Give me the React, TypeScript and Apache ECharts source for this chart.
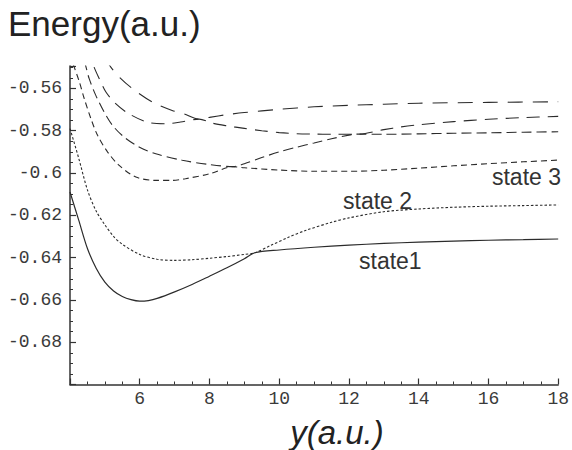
import React, { useEffect, useRef } from 'react';
import * as echarts from 'echarts';

// Axis tick labels
const xTickLabels = [6, 8, 10, 12, 14, 16, 18];
const yTickLabels = [-0.68, -0.66, -0.64, -0.62, -0.6, -0.58, -0.56];

// state 1 (solid)
const state1X = [4, 4.25, 4.5, 4.75, 5, 5.25, 5.5, 5.75, 6, 6.25, 6.5, 7, 7.5, 8, 8.5, 9, 9.3, 10, 11, 12, 13, 14, 15, 16, 17, 18];
const state1Y = [-0.609, -0.6223, -0.6357, -0.645, -0.6516, -0.6558, -0.6584, -0.6599, -0.6606, -0.6603, -0.6593, -0.6562, -0.6527, -0.6488, -0.6448, -0.6405, -0.6377, -0.6364, -0.6351, -0.6341, -0.6333, -0.6327, -0.6322, -0.6318, -0.6315, -0.6312];

// state 2 (dotted)
const state2X = [4, 4.25, 4.5, 4.75, 5, 5.25, 5.5, 6, 6.5, 7, 7.5, 8, 8.5, 9, 9.3, 9.75, 10.25, 10.75, 11.5, 12, 13, 14, 15, 16, 17, 18];
const state2Y = [-0.579, -0.593, -0.608, -0.618, -0.6245, -0.63, -0.6337, -0.6385, -0.6408, -0.6413, -0.641, -0.6403, -0.6395, -0.6385, -0.6377, -0.6343, -0.6305, -0.6272, -0.6233, -0.6212, -0.6183, -0.617, -0.6162, -0.6157, -0.6154, -0.6151];

// state 3 (short dashes)
const state3X = [4, 4.12, 4.27, 4.41, 4.6, 4.79, 5.08, 5.41, 5.89, 6.46, 6.93, 7.31, 8, 8.68, 9, 10, 11, 12, 13, 14, 15, 16, 17, 18];
const state3Y = [-0.5443, -0.5499, -0.557, -0.5649, -0.5743, -0.5822, -0.5901, -0.5964, -0.6019, -0.6035, -0.6035, -0.6027, -0.6004, -0.597, -0.5975, -0.5986, -0.5992, -0.5992, -0.5987, -0.5977, -0.5966, -0.5956, -0.5947, -0.5939];

// state 4 (medium dashes)
const state4X = [4.3, 4.46, 4.55, 4.74, 4.98, 5.22, 5.55, 5.98, 6.46, 7.22, 8, 8.68, 9, 9.5, 10, 10.5, 11, 11.5, 12, 12.2, 13, 14, 15, 16, 17, 18];
const state4Y = [-0.54, -0.5499, -0.5554, -0.5633, -0.5712, -0.5775, -0.583, -0.5877, -0.5909, -0.594, -0.596, -0.597, -0.5956, -0.5927, -0.59, -0.5878, -0.5858, -0.5838, -0.5821, -0.5816, -0.5817, -0.5815, -0.5812, -0.581, -0.5807, -0.5805];

// state 5 (long dashes)
const state5X = [4.5, 4.69, 4.84, 5.03, 5.31, 5.69, 6.27, 6.74, 7.17, 7.7, 8.1, 8.5, 9, 9.5, 10, 10.5, 11, 11.5, 12.2, 13, 13.5, 14, 15, 16, 17, 18];
const state5Y = [-0.5405, -0.5499, -0.5554, -0.5617, -0.5672, -0.572, -0.5762, -0.5767, -0.5759, -0.5745, -0.5765, -0.5777, -0.5789, -0.58, -0.5809, -0.5814, -0.5816, -0.5817, -0.5817, -0.5795, -0.5782, -0.5772, -0.5757, -0.5746, -0.5738, -0.5732];

// state 6 (longest dashes)
const state6X = [5.0, 5.17, 5.41, 5.79, 6.36, 6.93, 7.27, 7.7, 8.0, 8.5, 9, 10, 11, 12, 13, 14, 16, 18];
const state6Y = [-0.5455, -0.5499, -0.5546, -0.5601, -0.5664, -0.5704, -0.572, -0.5745, -0.5737, -0.5724, -0.5714, -0.5699, -0.5687, -0.568, -0.5675, -0.567, -0.5666, -0.5663];

const pairs = (xs: number[], ys: number[]) => xs.map((x, i) => [x, ys[i]]);

export default function App() {
  const ref = useRef<HTMLDivElement>(null);
  useEffect(() => {
    const chart = echarts.init(ref.current!, null, { renderer: 'svg' });
    const lineColor = '#2b2b2b';
    const mk = (name: string, xs: number[], ys: number[], dash: any, width = 1.1) => ({
      type: 'line',
      name,
      data: pairs(xs, ys),
      symbol: 'none',
      showSymbol: false,
      smooth: 0.3,
      clip: true,
      silent: true,
      lineStyle: { color: lineColor, width, type: dash },
    });
    const axisColor = '#333';
    const labelFont = {
      fontFamily: '"Liberation Mono", "DejaVu Sans Mono", monospace',
      fontSize: 18,
      color: '#3a3a3a',
    };
    const sans = '"Liberation Sans", Arial, sans-serif';
    chart.setOption({
      animation: false,
      grid: { left: 70, right: 12, top: 66, bottom: 65.5, containLabel: false },
      xAxis: {
        type: 'value',
        min: 4,
        max: 18,
        interval: 2,
        axisLine: { show: true, onZero: false, lineStyle: { color: axisColor, width: 1.5 } },
        axisTick: { show: true, inside: true, length: 6, lineStyle: { color: axisColor, width: 1.2 } },
        minorTick: { show: true, splitNumber: 4, length: 3, lineStyle: { color: axisColor, width: 1 } },
        splitLine: { show: false },
        minorSplitLine: { show: false },
        axisLabel: {
          ...labelFont,
          margin: 5,
          formatter: (v: number) => (xTickLabels.some((t) => Math.abs(t - v) < 1e-6) ? String(v) : ''),
        },
      },
      yAxis: {
        type: 'value',
        min: -0.7,
        max: -0.5494,
        interval: 0.02,
        axisLine: { show: true, onZero: false, lineStyle: { color: axisColor, width: 1.5 } },
        axisTick: { show: true, inside: true, length: 6, lineStyle: { color: axisColor, width: 1.2 } },
        minorTick: { show: true, splitNumber: 4, length: 3, lineStyle: { color: axisColor, width: 1 } },
        splitLine: { show: false },
        minorSplitLine: { show: false },
        axisLabel: {
          ...labelFont,
          margin: 8,
          formatter: (v: number) =>
            yTickLabels.some((t) => Math.abs(t - v) < 1e-6) ? String(Math.round(v * 100) / 100) : '',
        },
      },
      graphic: [
        {
          type: 'text',
          x: 8,
          y: 23,
          style: {
            text: 'Energy(a.u.)',
            font: `35px ${sans}`,
            fill: '#222',
            verticalAlign: 'middle',
            textAlign: 'left',
          },
        },
        {
          type: 'text',
          x: 337,
          y: 432,
          style: {
            text: 'y(a.u.)',
            font: `italic 33px ${sans}`,
            fill: '#222',
            verticalAlign: 'middle',
            textAlign: 'center',
          },
        },
        {
          type: 'text',
          x: 561,
          y: 177.4,
          style: { text: 'state 3', font: `23px ${sans}`, fill: '#333', verticalAlign: 'middle', textAlign: 'right' },
        },
        {
          type: 'text',
          x: 343,
          y: 201.4,
          style: { text: 'state 2', font: `23px ${sans}`, fill: '#333', verticalAlign: 'middle', textAlign: 'left' },
        },
        {
          type: 'text',
          x: 359,
          y: 261.4,
          style: { text: 'state1', font: `23px ${sans}`, fill: '#333', verticalAlign: 'middle', textAlign: 'left' },
        },
      ],
      series: [
        mk('state1', state1X, state1Y, 'solid', 1.2),
        mk('state2', state2X, state2Y, [2.5, 2]),
        mk('state3', state3X, state3Y, [6, 4]),
        mk('state4', state4X, state4Y, [10, 5]),
        mk('state5', state5X, state5Y, [13, 8]),
        mk('state6', state6X, state6Y, [15, 10]),
      ],
    });
    return () => chart.dispose();
  }, []);
  return <div ref={ref} style={{ position: 'absolute', left: 0, top: 0, width: 572, height: 450 }} />;
}
